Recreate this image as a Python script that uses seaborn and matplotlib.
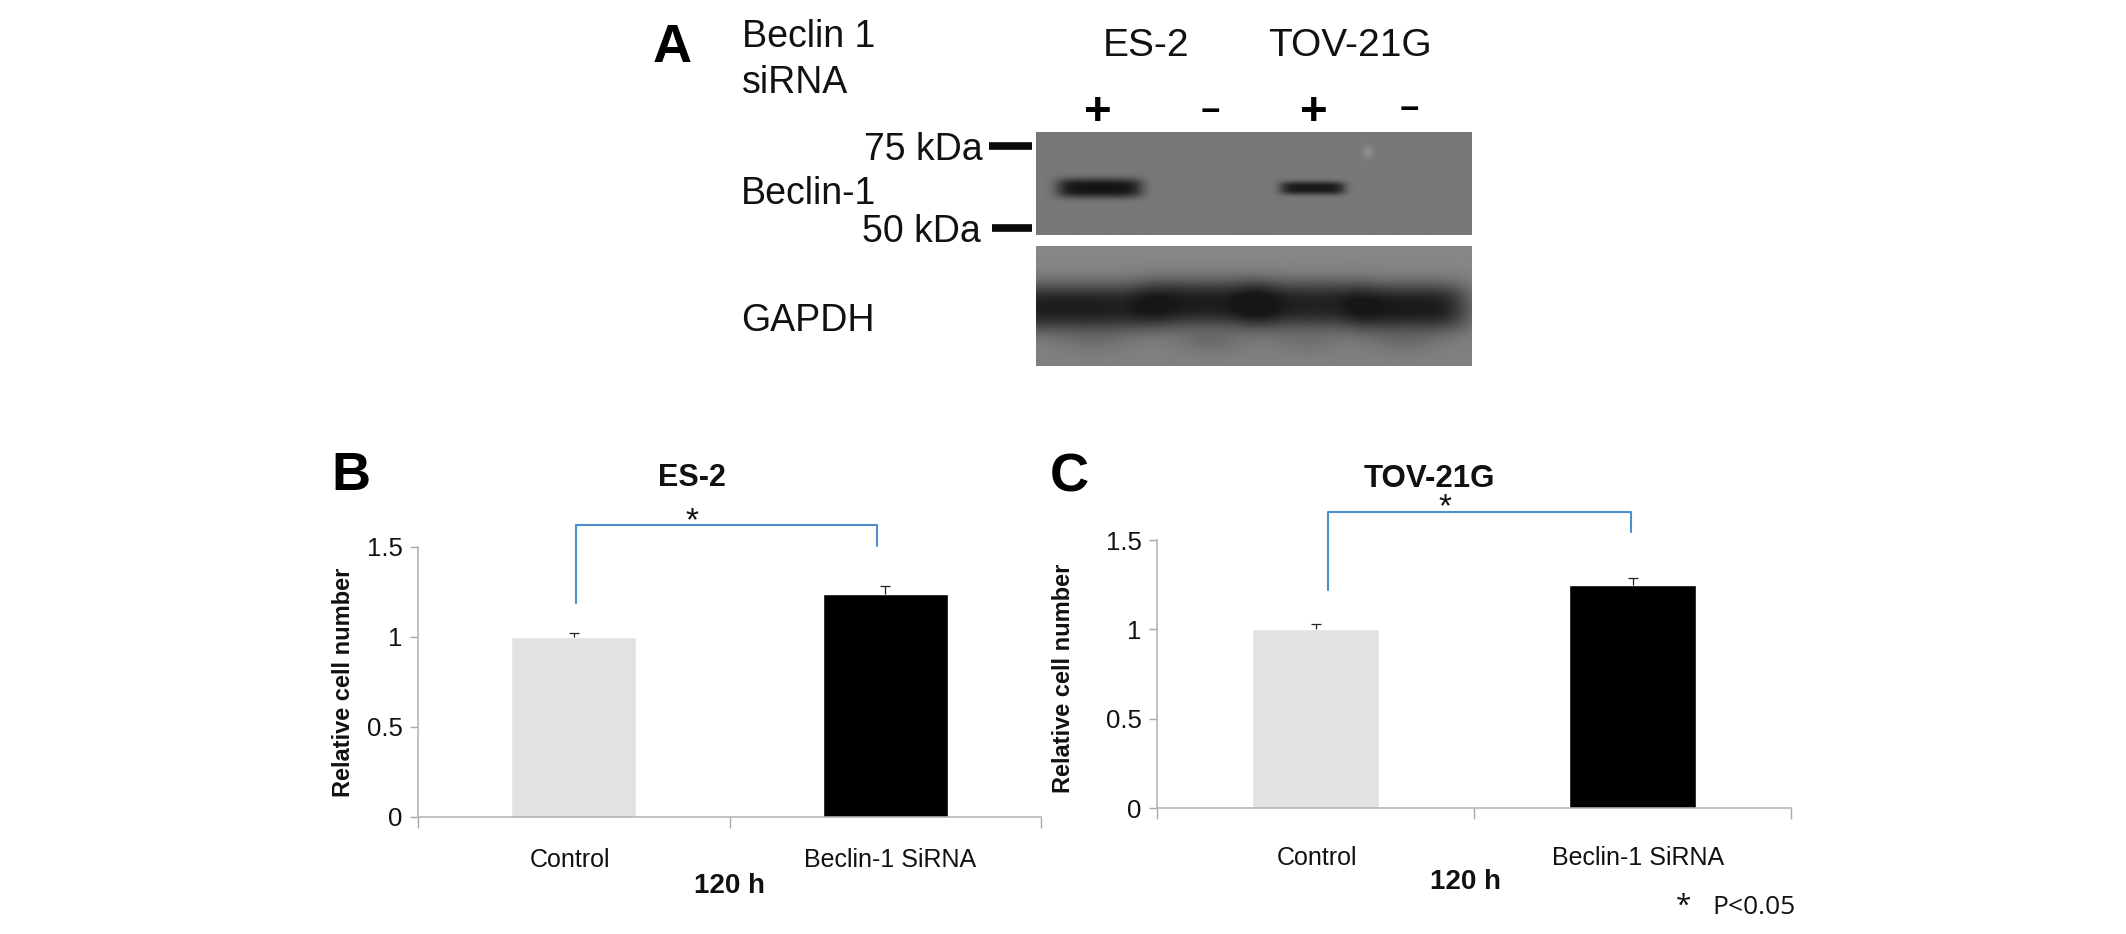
import numpy as np
import pandas as pd
import matplotlib
matplotlib.use('Agg')
import matplotlib.pyplot as plt
import seaborn as sns

W, H = 2126, 934

# Bar data
groups = ['Control', 'Beclin-1 SiRNA']
es2_values = [1.0, 1.24]
es2_errors = [0.02, 0.045]
tov_values = [1.0, 1.248]
tov_errors = [0.03, 0.04]
y_ticks = [0, 0.5, 1, 1.5]
y_tick_labels = ['0', '0.5', '1', '1.5']
bar_colors = ['#e2e2e4', '#000000']

# Blot bands, all as fractions of the blot size
beclin_centres = [0.145, 0.635]
beclin_half_widths = [0.098, 0.075]
beclin_half_heights = [0.095, 0.065]
beclin_strength = [0.39, 0.37]
gapdh_centres = [0.08, 0.38, 0.62, 0.86]
gapdh_rows = [0.51, 0.48, 0.49, 0.51]
gapdh_half_widths = [0.19, 0.15, 0.14, 0.135]
gapdh_strength = [0.40, 0.40, 0.38, 0.41]
smudge_centres = [0.13, 0.40, 0.62, 0.84]
smudge_strength = [0.05, 0.07, 0.05, 0.06]

sns.set_theme(style='white')
plt.rcParams['font.family'] = ['Liberation Sans', 'DejaVu Sans']

fig = plt.figure(figsize=(W / 100, H / 100), dpi=100, facecolor='white')


def px_axes(left, top, right, bottom):
    return fig.add_axes([left / W, 1 - bottom / H, (right - left) / W, (bottom - top) / H])


def label(x, y, s, **kw):
    kw.setdefault('va', 'baseline')
    kw.setdefault('color', '#111111')
    fig.text(x / W, 1 - y / H, s, **kw)


def bar_panel(box, values, errors, bracket, star):
    ax = px_axes(*box)
    df = pd.DataFrame({'group': groups, 'value': values})
    sns.barplot(data=df, x='group', y='value', hue='group', palette=bar_colors,
                width=0.4, legend=False, saturation=1, ax=ax)
    tops = [v + e for v, e in zip(values, errors)]
    ax.vlines([0, 1], values, tops, color='#222222', lw=0.9)
    ax.plot([0, 1], tops, ls='none', marker='_', ms=7, mew=0.9, color='#222222', clip_on=False)
    ax.set_xlim(-0.5, 1.5)
    ax.set_ylim(0, 1.5)
    ax.set_xticks([-0.5, 0.5, 1.5], ['', '', ''])
    ax.set_yticks(y_ticks, y_tick_labels, fontsize=18.5, color='#111111')
    ax.tick_params(axis='x', length=8, width=1, color='#a8a8a8', bottom=True)
    ax.tick_params(axis='y', length=6, width=1, color='#a8a8a8', left=True, pad=5)
    ax.set_xlabel('')
    ax.set_ylabel('')
    for s in ['top', 'right']:
        ax.spines[s].set_visible(False)
    for s in ['left', 'bottom']:
        ax.spines[s].set_color('#b0b0b0')
        ax.spines[s].set_linewidth(1.1)
    ax.plot(bracket[0], bracket[1], color='#4f8fcb', lw=1.5, clip_on=False)
    ax.text(star[0], star[1], '*', fontsize=24, ha='center', va='center', color='#111111')
    ax.patch.set_alpha(0)
    return ax


# Panel A blots
def blot_beclin():
    xx, yy = np.meshgrid(np.linspace(0, 1, 437), np.linspace(0, 1, 103))
    img = np.full(xx.shape, 0.47)
    for c, hw, hh, s in zip(beclin_centres, beclin_half_widths, beclin_half_heights, beclin_strength):
        img -= s * np.exp(-((xx - c) / hw) ** 6) * np.exp(-np.abs((yy - 0.545) / hh) ** 3)
    img += 0.1 * np.exp(-((xx - 0.762) / 0.012) ** 2 - ((yy - 0.195) / 0.06) ** 2)
    return img


def blot_gapdh():
    xx, yy = np.meshgrid(np.linspace(0, 1, 437), np.linspace(0, 1, 120))
    img = 0.53 - 0.03 * yy
    for c, r, hw, s in zip(gapdh_centres, gapdh_rows, gapdh_half_widths, gapdh_strength):
        img -= s * np.exp(-((xx - c) / hw) ** 4) * np.exp(-np.abs((yy - r) / 0.2) ** 2.5)
    for c, s in zip(smudge_centres, smudge_strength):
        img -= s * np.exp(-((xx - c) / 0.08) ** 2 - ((yy - 0.8) / 0.1) ** 2)
    return np.clip(img, 0.09, 1)


ax_a1 = px_axes(1036, 132, 1472, 235)
ax_a1.imshow(blot_beclin(), cmap='gray', vmin=0, vmax=1, aspect='auto')
ax_a1.axis('off')
ax_a2 = px_axes(1036, 246, 1472, 366)
ax_a2.imshow(blot_gapdh(), cmap='gray', vmin=0, vmax=1, aspect='auto')
ax_a2.axis('off')

# kDa markers
fig.add_artist(plt.Line2D([989 / W, 1032 / W], [1 - 146 / H] * 2, color='#0a0a0a', lw=5.5, solid_capstyle='butt'))
fig.add_artist(plt.Line2D([992 / W, 1032 / W], [1 - 228 / H] * 2, color='#0a0a0a', lw=5.5, solid_capstyle='butt'))

label(653, 62, 'A', fontsize=39, fontweight='bold', color='black')
label(742, 47, 'Beclin 1', fontsize=27)
label(742, 93, 'siRNA', fontsize=27)
label(1103, 56, 'ES-2', fontsize=28)
label(1268, 56, 'TOV-21G', fontsize=28)
label(864, 160, '75 kDa', fontsize=27)
label(862, 242, '50 kDa', fontsize=27)
label(741, 204, 'Beclin-1', fontsize=27)
label(741, 331, 'GAPDH', fontsize=27)
for x, s, y in [(1098, '+', 113), (1210, '\u2212', 113), (1314, '+', 113), (1409, '\u2212', 111)]:
    label(x, y, s, fontsize=34 if s == '+' else 24, fontweight='bold', ha='center', va='center', color='black')

# Panel B
bar_panel((418, 547, 1041, 817), es2_values, es2_errors,
          ([0.006, 0.006, 0.974, 0.974], [1.19, 1.62, 1.62, 1.505]), (0.378, 1.64))
label(331, 490, 'B', fontsize=39, fontweight='bold', color='black')
label(692, 486, 'ES-2', fontsize=22, fontweight='bold', ha='center')
label(344, 682, 'Relative cell number', fontsize=17, fontweight='bold', rotation=90, ha='center', va='center')
label(570, 867, groups[0], fontsize=18, ha='center')
label(890, 867, groups[1], fontsize=18, ha='center')
label(729, 893, '120 h', fontsize=20, fontweight='bold', ha='center')

# Panel C
bar_panel((1157, 540, 1791, 808), tov_values, tov_errors,
          ([0.038, 0.038, 0.995, 0.995], [1.22, 1.656, 1.656, 1.545]), (0.407, 1.68))
label(1050, 491, 'C', fontsize=39, fontweight='bold', color='black')
label(1429, 487, 'TOV-21G', fontsize=22.5, fontweight='bold', ha='center')
label(1064, 678, 'Relative cell number', fontsize=17, fontweight='bold', rotation=90, ha='center', va='center')
label(1317, 865, groups[0], fontsize=18, ha='center')
label(1638, 865, groups[1], fontsize=18, ha='center')
label(1465, 889, '120 h', fontsize=20, fontweight='bold', ha='center')
label(1683, 914, '*', fontsize=20, ha='center', family='Open Sans')
label(1712, 914, 'P<0.05', fontsize=19, family='Open Sans')

fig.savefig('out.png', dpi=100, facecolor='white')
